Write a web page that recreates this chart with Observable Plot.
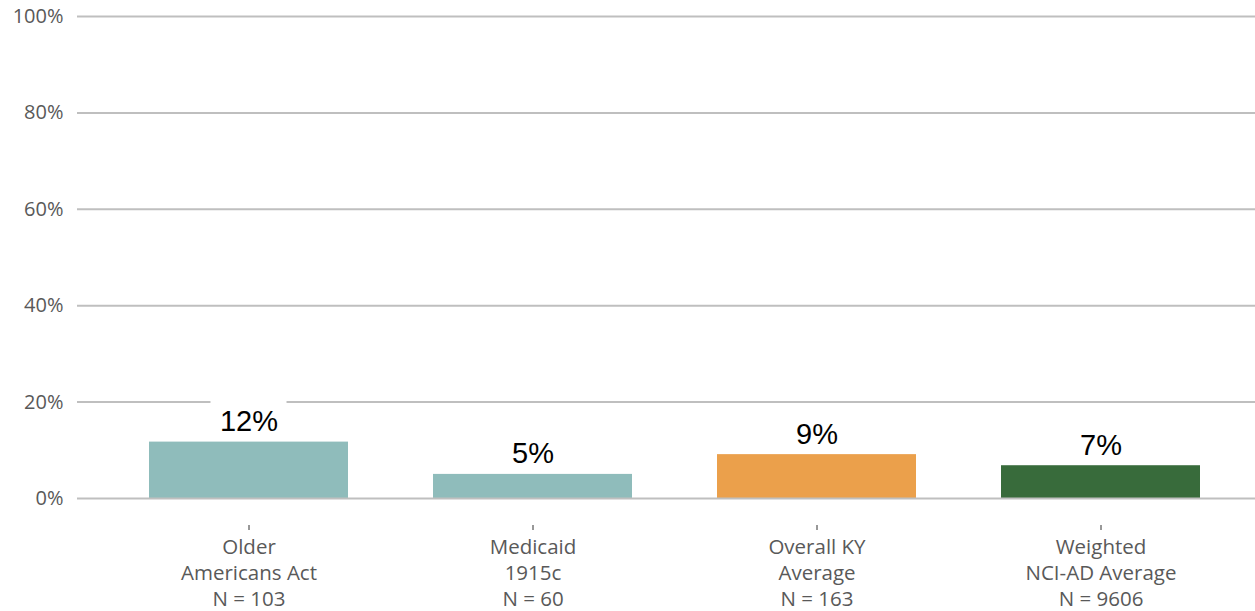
<!DOCTYPE html>
<html>
<head>
<meta charset="utf-8">
<script src="https://cdn.jsdelivr.net/npm/d3@7"></script>
<script src="https://cdn.jsdelivr.net/npm/@observablehq/plot@0.6"></script>
<style>
  html, body { margin: 0; padding: 0; background: #fff; }
  #chart svg { display: block; }
</style>
</head>
<body>
<div id="chart"></div>
<script>
// ---- data ----
const categories = ["Older Americans Act", "Medicaid 1915c", "Overall KY Average", "Weighted NCI-AD Average"];
const categoryLabels = ["Older\nAmericans Act\nN = 103", "Medicaid\n1915c\nN = 60", "Overall KY\nAverage\nN = 163", "Weighted\nNCI-AD Average\nN = 9606"];
const values = [11.7, 5.0, 9.1, 6.8];
const barColors = ["#8fbcbb", "#8fbcbb", "#eba04b", "#386b3b"];
const yTicks = [0, 20, 40, 60, 80, 100];

const data = categories.map((c, i) => ({category: c, value: values[i], color: barColors[i], label: Math.round(values[i]) + "%"}));
const labelOf = new Map(categories.map((c, i) => [c, categoryLabels[i]]));

const valueFont = "Liberation Sans, Arial, sans-serif";
const valueFontSize = 29;
const labelGap = 11;

// white boxes behind value labels (sized from the text, placed through the scales)
function labelBoxes(index, scales, channels, dimensions) {
  const ctx = document.createElement("canvas").getContext("2d");
  ctx.font = `${valueFontSize}px ${valueFont}`;
  const g = d3.create("svg:g");
  const bw = scales.x.bandwidth ? scales.x.bandwidth() : 0;
  for (const d of data) {
    const w = ctx.measureText(d.label).width + 18;
    const h = valueFontSize * 0.72 + 18;
    const cx = scales.x(d.category) + bw / 2;
    const base = scales.y(d.value) - labelGap;
    g.append("rect")
      .attr("x", cx - w / 2)
      .attr("y", base - h + 4)
      .attr("width", w)
      .attr("height", h)
      .attr("fill", "white");
  }
  return g.node();
}

const chart = Plot.plot({
  width: 1255,
  height: 611,
  marginLeft: 105,
  marginRight: 12,
  marginTop: 16,
  marginBottom: 113,
  style: {fontFamily: "'Open Sans', sans-serif", background: "white"},
  x: {domain: categories, paddingInner: 0.3, paddingOuter: 0.15, label: null},
  y: {domain: [0, 100], label: null},
  marks: [
    Plot.ruleY(yTicks.filter(d => d !== 0), {stroke: "#bfbfbf", strokeWidth: 2, insetLeft: -28, insetRight: -12}),
    labelBoxes,
    Plot.barY(data, {x: "category", y: "value", fill: "color"}),
    Plot.ruleY([0], {stroke: "#bfbfbf", strokeWidth: 2, insetLeft: -28, insetRight: -12}),
    Plot.text(data, {x: "category", y: "value", text: "label", lineAnchor: "bottom", dy: -labelGap, fontSize: valueFontSize, fontFamily: valueFont, fill: "black"}),
    Plot.axisY({ticks: yTicks, tickFormat: d => d + "%", tickSize: 0, tickPadding: 42, fontSize: 20, color: "#595959", label: null}),
    Plot.axisX({tickSize: 5, dy: 27, tickPadding: 5, fontSize: 20.5, lineHeight: 1.27, color: "#595959", stroke: "#333", tickFormat: d => labelOf.get(d), label: null})
  ]
});
document.getElementById("chart").appendChild(chart);
</script>
</body>
</html>
